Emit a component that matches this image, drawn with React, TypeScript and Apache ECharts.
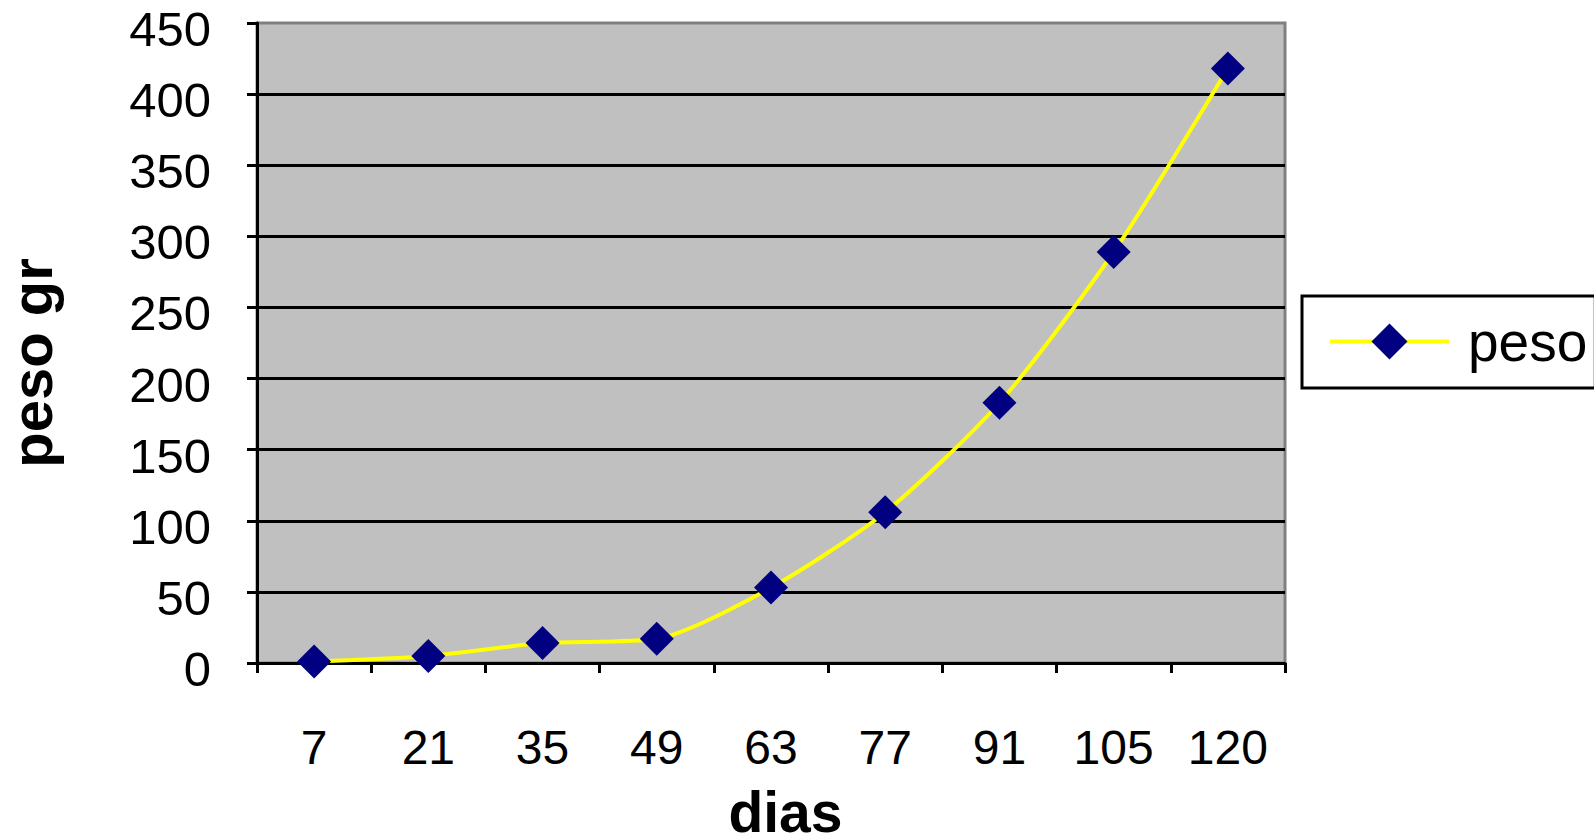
import React, { useEffect, useRef } from "react";
import * as echarts from "echarts";

const dias = ["7", "21", "35", "49", "63", "77", "91", "105", "120"];
const peso = [1, 5, 14, 17, 53, 106, 183, 289, 418];
const seriesName = "peso";
const xTitle = "dias";
const yTitle = "peso gr";

const FONT = "'Liberation Sans', Arial, Helvetica, sans-serif";

export default function App() {
  const ref = useRef<HTMLDivElement>(null);
  useEffect(() => {
    if (!ref.current) return;
    const chart = echarts.init(ref.current, undefined, { renderer: "svg" });
    chart.setOption({
      animation: false,
      backgroundColor: "#ffffff",
      grid: {
        left: 257,
        top: 23,
        right: 309,
        bottom: 174,
        containLabel: false,
        outerBoundsMode: "none",
        show: true,
        backgroundColor: "#c0c0c0",
        borderColor: "#808080",
        borderWidth: 3,
      },
      legend: {
        show: true,
        left: 1302,
        top: 296,
        orient: "horizontal",
        padding: [18, 8, 19, 26],
        borderColor: "#000000",
        borderWidth: 3,
        backgroundColor: "#ffffff",
        itemWidth: 119,
        itemHeight: 45,
        lineStyle: { width: 4 },
        textStyle: {
          fontFamily: FONT,
          fontSize: 55,
          color: "#000000",
          padding: [0, 0, 0, 14],
        },
        data: [seriesName],
      },
      xAxis: {
        type: "category",
        data: dias,
        boundaryGap: true,
        name: xTitle,
        nameLocation: "middle",
        nameGap: 125,
        nameTextStyle: {
          fontFamily: FONT,
          fontSize: 57,
          lineHeight: 48,
          fontWeight: "bold",
          color: "#000000",
          padding: [0, 0, 0, 29],
        },
        axisLine: { show: true, lineStyle: { color: "#000000", width: 3 } },
        axisTick: {
          show: true,
          inside: false,
          length: 10,
          alignWithLabel: false,
          lineStyle: { color: "#000000", width: 3 },
        },
        axisLabel: {
          fontFamily: FONT,
          fontSize: 48,
          color: "#000000",
          margin: 60,
          interval: 0,
        },
        splitLine: { show: false },
      },
      yAxis: {
        type: "value",
        min: 0,
        max: 450,
        interval: 50,
        name: yTitle,
        nameLocation: "middle",
        nameGap: 197,
        nameTextStyle: {
          fontFamily: FONT,
          fontSize: 58,
          fontWeight: "bold",
          color: "#000000",
          padding: [0, 40, 0, 0],
        },
        axisLine: { show: true, lineStyle: { color: "#000000", width: 3 } },
        axisTick: {
          show: true,
          inside: false,
          length: 10,
          lineStyle: { color: "#000000", width: 3 },
        },
        axisLabel: {
          fontFamily: FONT,
          fontSize: 49,
          color: "#000000",
          margin: 46,
          formatter: (v: number) => "{v|" + v + "}",
          rich: {
            v: {
              fontFamily: FONT,
              fontSize: 49,
              lineHeight: 44,
              color: "#000000",
              padding: [12, 0, 0, 0],
            },
          },
        },
        splitLine: {
          show: true,
          showMaxLine: false,
          lineStyle: { color: "#000000", width: 3 },
        },
      },
      series: [
        {
          name: seriesName,
          type: "line",
          data: peso,
          smooth: 0.25,
          symbol: "diamond",
          symbolSize: 34,
          showSymbol: true,
          lineStyle: { color: "#ffff00", width: 4 },
          itemStyle: { color: "#000080", borderWidth: 0 },
        },
      ],
    });
    return () => chart.dispose();
  }, []);
  return (
    <div
      ref={ref}
      style={{ position: "fixed", left: 0, top: 0, width: 1594, height: 837 }}
    />
  );
}
